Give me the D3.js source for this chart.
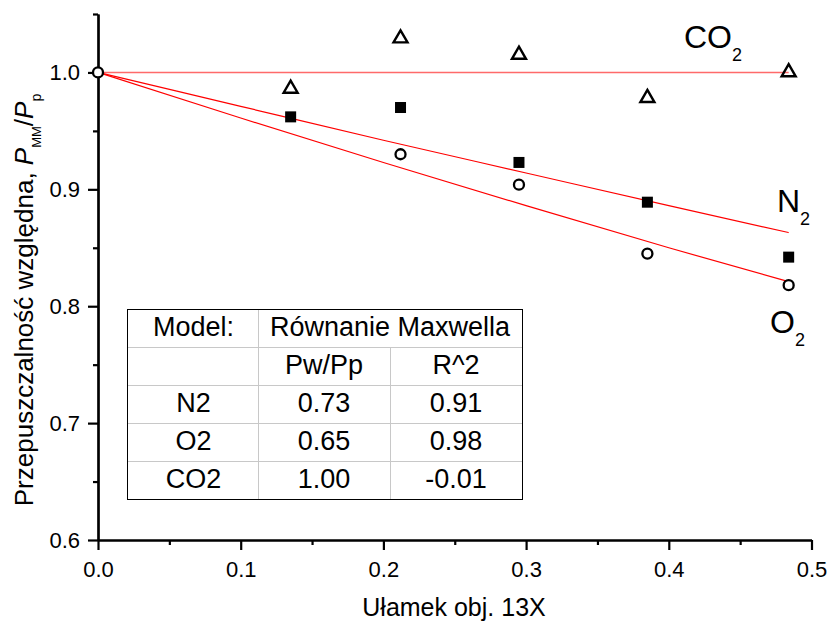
<!DOCTYPE html>
<html>
<head>
<meta charset="utf-8">
<script src="https://cdn.jsdelivr.net/npm/d3@7"></script>
<style>
  html, body { margin: 0; padding: 0; background: #fff; }
  svg { display: block; }
  text { font-family: "Liberation Sans", Arial, sans-serif; fill: #000; }
</style>
</head>
<body>
<svg id="chart" width="830" height="621"></svg>
<script>
// ---- data ----
const xValues = [0, 0.135, 0.212, 0.295, 0.385, 0.484];
const co2Values = [null, 0.987, 1.030, 1.016, 0.979, 1.001];
const n2Values = [null, 0.962, 0.970, 0.923, 0.889, 0.842];
const o2Values = [1.0, null, 0.930, 0.904, 0.845, 0.818];

const fitX = [0, 0.1, 0.2, 0.3, 0.4, 0.484];
const co2Fit = [1.0, 1.0, 1.0, 1.0, 1.0, 1.0];
const n2Fit = [1.0, 0.971, 0.942, 0.914, 0.886, 0.863];
const o2Fit = [1.0, 0.961, 0.923, 0.886, 0.850, 0.821];

const xTicks = [0, 0.1, 0.2, 0.3, 0.4, 0.5];
const xMinorTicks = [0.05, 0.15, 0.25, 0.35, 0.45];
const yTicks = [0.6, 0.7, 0.8, 0.9, 1.0];
const yMinorTicks = [0.65, 0.75, 0.85, 0.95, 1.05];

const tableHeader = ["Model:", "Równanie Maxwella"];
const tableSubHeader = ["", "Pw/Pp", "R^2"];
const tableGases = ["N2", "O2", "CO2"];
const tablePwPp = ["0.73", "0.65", "1.00"];
const tableR2 = ["0.91", "0.98", "-0.01"];

// ---- layout ----
const svg = d3.select("#chart");
const x = d3.scaleLinear().domain([0, 0.5]).range([98, 811.5]);
const y = d3.scaleLinear().domain([0.6, 1.05]).range([540, 14]);

function styleAxis(g) {
  g.selectAll("path.domain").attr("stroke", "#000").attr("stroke-width", 2.2);
  g.selectAll(".tick line").attr("stroke", "#000").attr("stroke-width", 2.2);
  g.selectAll(".tick text").style("font-family", "Liberation Sans, Arial, sans-serif").style("font-size", "22px").attr("fill", "#000");
}

const gx = svg.append("g").attr("transform", "translate(0,540)")
  .call(d3.axisBottom(x).tickValues(xTicks).tickFormat(d3.format(".1f")).tickSize(10).tickSizeOuter(0).tickPadding(11));
styleAxis(gx);
const gxm = svg.append("g").attr("transform", "translate(0,540)")
  .call(d3.axisBottom(x).tickValues(xMinorTicks).tickFormat("").tickSize(5).tickSizeOuter(0));
styleAxis(gxm);

const gy = svg.append("g").attr("transform", "translate(98,0)")
  .call(d3.axisLeft(y).tickValues(yTicks).tickFormat(d3.format(".1f")).tickSize(10).tickSizeOuter(0).tickPadding(8));
styleAxis(gy);
const gym = svg.append("g").attr("transform", "translate(98,0)")
  .call(d3.axisLeft(y).tickValues(yMinorTicks).tickFormat("").tickSize(5).tickSizeOuter(0));
styleAxis(gym);

// axis titles
svg.append("text")
  .attr("x", 454).attr("y", 616)
  .attr("text-anchor", "middle")
  .style("font-size", "25px")
  .text("Ułamek obj. 13X");

const yt = svg.append("text")
  .attr("transform", "translate(33,300) rotate(-90)")
  .attr("text-anchor", "middle")
  .style("font-size", "26px");
yt.append("tspan").text("Przepuszczalność względna, ");
yt.append("tspan").style("font-style", "italic").text("P");
yt.append("tspan").attr("dy", 8).style("font-size", "13px").text("MM");
yt.append("tspan").attr("dy", -8).text("/");
yt.append("tspan").style("font-style", "italic").text("P");
yt.append("tspan").attr("dy", 8).style("font-size", "14px").text("p");

// fit lines
const line = d3.line().x((d, i) => x(fitX[i])).y(d => y(d)).curve(d3.curveMonotoneX);
svg.append("path").attr("d", line(co2Fit)).attr("fill", "none").attr("stroke", "#ff6a6a").attr("stroke-width", 1.6);
[n2Fit, o2Fit].forEach(f => {
  svg.append("path").attr("d", line(f)).attr("fill", "none").attr("stroke", "#ff0000").attr("stroke-width", 1.2);
});

// markers
const ptsCO2 = xValues.map((v, i) => [v, co2Values[i]]).filter(d => d[1] != null);
const ptsN2 = xValues.map((v, i) => [v, n2Values[i]]).filter(d => d[1] != null);
const ptsO2 = xValues.map((v, i) => [v, o2Values[i]]).filter(d => d[1] != null);

svg.append("g").selectAll("rect").data(ptsN2).join("rect")
  .attr("x", d => x(d[0]) - 5.5).attr("y", d => y(d[1]) - 5.5)
  .attr("width", 11).attr("height", 11).attr("fill", "#000");

svg.append("g").selectAll("circle").data(ptsO2).join("circle")
  .attr("cx", d => x(d[0])).attr("cy", d => y(d[1])).attr("r", 5)
  .attr("fill", "#fff").attr("stroke", "#000").attr("stroke-width", 2.3);

const tri = d3.symbol().type(d3.symbolTriangle).size(85);
svg.append("g").selectAll("path").data(ptsCO2).join("path")
  .attr("d", tri)
  .attr("transform", d => `translate(${x(d[0])},${y(d[1]) + 1})`)
  .attr("fill", "none").attr("stroke", "#000").attr("stroke-width", 2.4).attr("stroke-linejoin", "miter");

// series labels
function gasLabel(px, py, main) {
  const t = svg.append("text").attr("x", px).attr("y", py).style("font-size", "32px");
  t.append("tspan").text(main);
  t.append("tspan").attr("dy", 12.5).style("font-size", "18px").text("2");
}
gasLabel(684, 48, "CO");
gasLabel(777, 212, "N");
gasLabel(770, 333, "O");

// table
const tL = 127, tR = 522, tT = 309, rowH = 38;
const colX = [127, 258, 390, 522];
const tB = tT + rowH * 5;
const tg = svg.append("g");
for (let r = 1; r < 5; r++) {
  tg.append("line").attr("x1", tL).attr("x2", tR).attr("y1", tT + r * rowH + 0.5).attr("y2", tT + r * rowH + 0.5)
    .attr("stroke", "#c8c8c8").attr("stroke-width", 1);
}
tg.append("line").attr("x1", colX[1] + 0.5).attr("x2", colX[1] + 0.5).attr("y1", tT).attr("y2", tB)
  .attr("stroke", "#c8c8c8").attr("stroke-width", 1);
tg.append("line").attr("x1", colX[2] + 0.5).attr("x2", colX[2] + 0.5).attr("y1", tT + rowH).attr("y2", tB)
  .attr("stroke", "#c8c8c8").attr("stroke-width", 1);
tg.append("rect").attr("x", tL + 0.5).attr("y", tT + 0.5).attr("width", tR - tL).attr("height", tB - tT)
  .attr("fill", "none").attr("stroke", "#000").attr("stroke-width", 1);

function cell(cx, r, txt) {
  tg.append("text").attr("x", cx).attr("y", tT + r * rowH + 27)
    .attr("text-anchor", "middle").style("font-size", "27px").text(txt);
}
const c1 = (colX[0] + colX[1]) / 2, c2 = (colX[1] + colX[2]) / 2, c3 = (colX[2] + colX[3]) / 2;
cell(c1 + 1, 0, tableHeader[0]);
cell((colX[1] + colX[3]) / 2, 0, tableHeader[1]);
cell(c2, 1, tableSubHeader[1]);
cell(c3, 1, tableSubHeader[2]);
tableGases.forEach((g, i) => {
  cell(c1 + 1, i + 2, g);
  cell(c2, i + 2, tablePwPp[i]);
  cell(c3, i + 2, tableR2[i]);
});
</script>
</body>
</html>
